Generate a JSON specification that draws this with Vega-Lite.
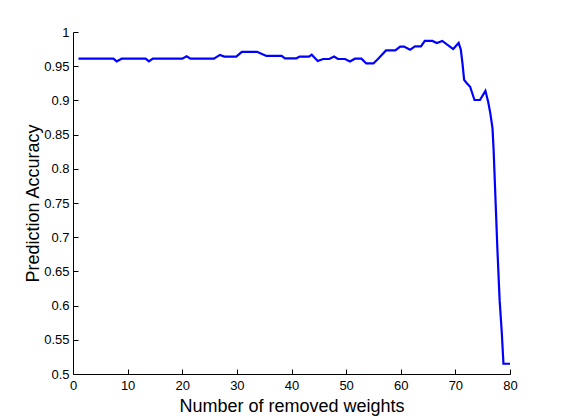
{
  "$schema": "https://vega.github.io/schema/vega-lite/v6.json",
  "autosize": "none",
  "padding": {"left": 73, "top": 32, "right": 51, "bottom": 46},
  "width": 437,
  "height": 342,
  "background": "white",
  "config": {
    "view": {"stroke": null},
    "font": "Liberation Sans",
    "axis": {
      "grid": false,
      "domainColor": "black",
      "domainWidth": 1,
      "tickColor": "black",
      "tickWidth": 1,
      "tickSize": -5,
      "labelColor": "black",
      "labelFont": "Liberation Sans",
      "labelFontSize": 13,
      "labelFlush": false,
      "labelOverlap": false,
      "titleFont": "Liberation Sans",
      "titleFontSize": 18,
      "titleFontWeight": "normal",
      "titleColor": "black"
    }
  },
  "data": {
    "values": [
      {"removed": 1, "accuracy": 0.961},
      {"removed": 7.4, "accuracy": 0.961},
      {"removed": 8, "accuracy": 0.957},
      {"removed": 8.9, "accuracy": 0.961},
      {"removed": 13.3, "accuracy": 0.961},
      {"removed": 13.9, "accuracy": 0.957},
      {"removed": 14.6, "accuracy": 0.961},
      {"removed": 20, "accuracy": 0.961},
      {"removed": 20.8, "accuracy": 0.9645},
      {"removed": 21.5, "accuracy": 0.961},
      {"removed": 25.8, "accuracy": 0.961},
      {"removed": 26.9, "accuracy": 0.9665},
      {"removed": 27.7, "accuracy": 0.964},
      {"removed": 29.9, "accuracy": 0.964},
      {"removed": 30.9, "accuracy": 0.971},
      {"removed": 33.7, "accuracy": 0.971},
      {"removed": 34.8, "accuracy": 0.967},
      {"removed": 35.4, "accuracy": 0.965},
      {"removed": 38.2, "accuracy": 0.965},
      {"removed": 38.8, "accuracy": 0.9615},
      {"removed": 40.9, "accuracy": 0.9615},
      {"removed": 41.5, "accuracy": 0.964},
      {"removed": 43.2, "accuracy": 0.964},
      {"removed": 43.7, "accuracy": 0.9668},
      {"removed": 44.8, "accuracy": 0.9576},
      {"removed": 45.8, "accuracy": 0.9605},
      {"removed": 46.9, "accuracy": 0.9605},
      {"removed": 47.8, "accuracy": 0.964},
      {"removed": 48.5, "accuracy": 0.9605},
      {"removed": 49.8, "accuracy": 0.9605},
      {"removed": 50.7, "accuracy": 0.957},
      {"removed": 51.6, "accuracy": 0.961},
      {"removed": 52.8, "accuracy": 0.961},
      {"removed": 53.7, "accuracy": 0.954},
      {"removed": 55, "accuracy": 0.954},
      {"removed": 56, "accuracy": 0.962},
      {"removed": 57.3, "accuracy": 0.973},
      {"removed": 59, "accuracy": 0.973},
      {"removed": 59.9, "accuracy": 0.9786},
      {"removed": 60.6, "accuracy": 0.9786},
      {"removed": 61.7, "accuracy": 0.974},
      {"removed": 62.6, "accuracy": 0.979},
      {"removed": 63.7, "accuracy": 0.979},
      {"removed": 64.4, "accuracy": 0.987},
      {"removed": 65.8, "accuracy": 0.987},
      {"removed": 66.6, "accuracy": 0.984},
      {"removed": 67.6, "accuracy": 0.987},
      {"removed": 69.6, "accuracy": 0.975},
      {"removed": 70.6, "accuracy": 0.984},
      {"removed": 71.0, "accuracy": 0.974},
      {"removed": 71.3, "accuracy": 0.954},
      {"removed": 71.6, "accuracy": 0.93},
      {"removed": 72.1, "accuracy": 0.925},
      {"removed": 72.7, "accuracy": 0.92},
      {"removed": 73.5, "accuracy": 0.9006},
      {"removed": 74.5, "accuracy": 0.9006},
      {"removed": 75.5, "accuracy": 0.914},
      {"removed": 76.0, "accuracy": 0.898},
      {"removed": 76.4, "accuracy": 0.881},
      {"removed": 76.8, "accuracy": 0.859},
      {"removed": 77.0, "accuracy": 0.8275},
      {"removed": 77.7, "accuracy": 0.681},
      {"removed": 78.1, "accuracy": 0.608},
      {"removed": 78.5, "accuracy": 0.56},
      {"removed": 78.8, "accuracy": 0.515},
      {"removed": 80, "accuracy": 0.515}
    ]
  },
  "mark": {"type": "line", "color": "#0000ff", "strokeWidth": 2.2, "clip": true},
  "encoding": {
    "x": {
      "field": "removed",
      "type": "quantitative",
      "title": "Number of removed weights",
      "scale": {"domain": [0, 80], "nice": false, "zero": false},
      "axis": {"values": [0, 10, 20, 30, 40, 50, 60, 70, 80], "labelPadding": 10, "titlePadding": 5}
    },
    "y": {
      "field": "accuracy",
      "type": "quantitative",
      "title": "Prediction Accuracy",
      "scale": {"domain": [0.5, 1], "nice": false, "zero": false},
      "axis": {
        "values": [0.5, 0.55, 0.6, 0.65, 0.7, 0.75, 0.8, 0.85, 0.9, 0.95, 1],
        "format": "~g",
        "labelPadding": 9,
        "titlePadding": 1
      }
    }
  }
}
